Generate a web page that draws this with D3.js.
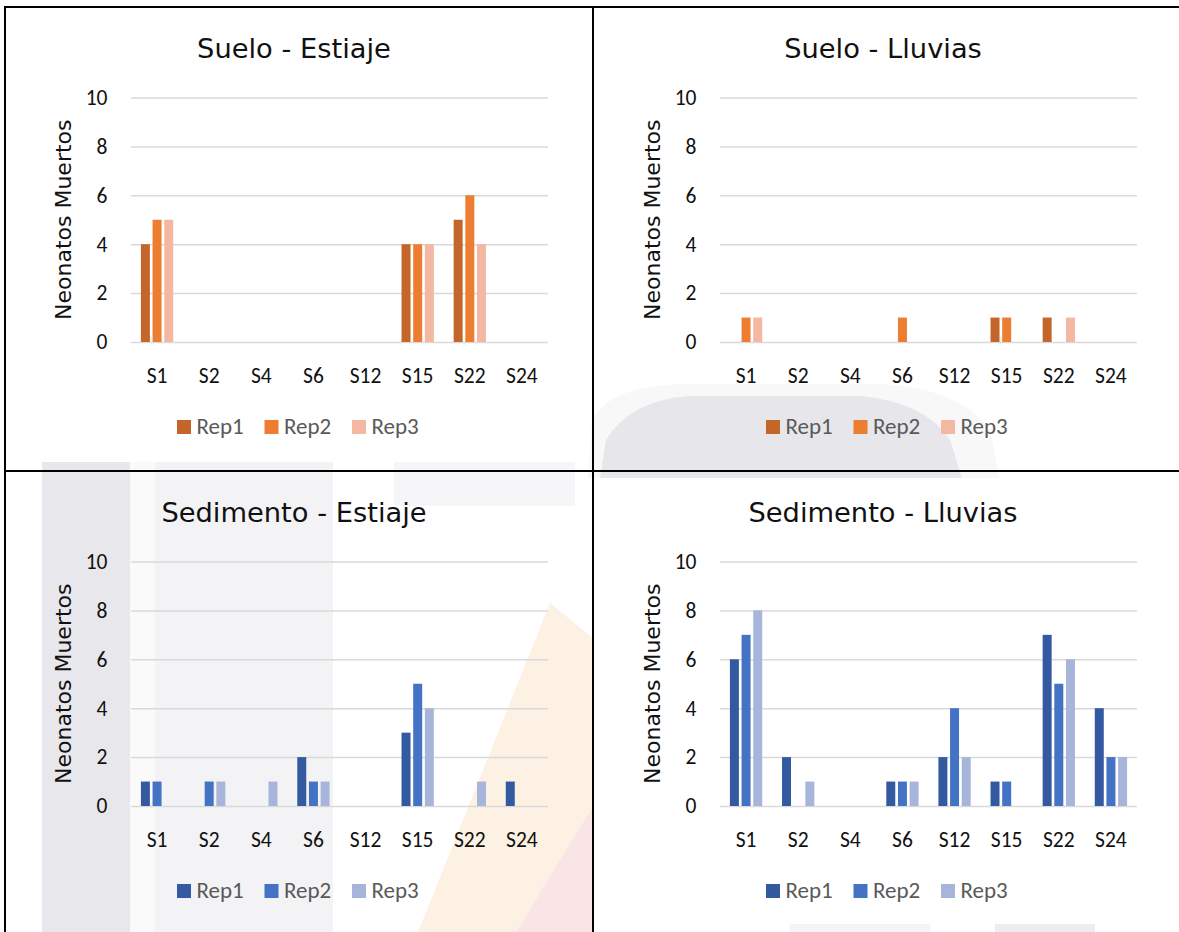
<!DOCTYPE html>
<html>
<head>
<meta charset="utf-8">
<script src="https://cdn.jsdelivr.net/npm/d3@7"></script>
<style>
  html, body { margin: 0; padding: 0; background: #fff; }
  svg { display: block; }
</style>
</head>
<body>
<script>
// Categories and series
const sites = ["S1", "S2", "S4", "S6", "S12", "S15", "S22", "S24"];
const reps = ["Rep1", "Rep2", "Rep3"];
const yTicks = [0, 2, 4, 6, 8, 10];

// one row per replicate (Rep1, Rep2, Rep3), one column per site
const sueloEstiaje = [
    [4, 0, 0, 0, 0, 4, 5, 0],
    [5, 0, 0, 0, 0, 4, 6, 0],
    [5, 0, 0, 0, 0, 4, 4, 0]
];
const sueloLluvias = [
    [0, 0, 0, 0, 0, 1, 1, 0],
    [1, 0, 0, 1, 0, 1, 0, 0],
    [1, 0, 0, 0, 0, 0, 1, 0]
];
const sedimentoEstiaje = [
    [1, 0, 0, 2, 0, 3, 0, 1],
    [1, 1, 0, 1, 0, 5, 0, 0],
    [0, 1, 1, 1, 0, 4, 1, 0]
];
const sedimentoLluvias = [
    [6, 2, 0, 1, 2, 1, 7, 4],
    [7, 0, 0, 1, 4, 1, 5, 2],
    [8, 1, 0, 1, 2, 0, 6, 2]
];

const orangeColors = ["#C4652A", "#ED7D31", "#F4B8A2"];
const blueColors = ["#335AA1", "#4472C4", "#A8B5DB"];

const panels = [
    { title: "Suelo - Estiaje",     rows: sueloEstiaje,     colors: orangeColors, ox: 0,   oy: 0 },
    { title: "Suelo - Lluvias",     rows: sueloLluvias,     colors: orangeColors, ox: 589, oy: 0 },
    { title: "Sedimento - Estiaje", rows: sedimentoEstiaje, colors: blueColors,   ox: 0,   oy: 464 },
    { title: "Sedimento - Lluvias", rows: sedimentoLluvias, colors: blueColors,   ox: 589, oy: 464 }
];

const W = 1179, H = 932;
const PLOT = { left: 131, right: 548, top: 97.5, bottom: 342 };
const TICK_FONT = "Calibri, Carlito, Lato, sans-serif";
const TITLE_FONT = "'DejaVu Sans', Verdana, sans-serif";

const svg = d3.select("body").append("svg")
    .attr("width", W).attr("height", H)
    .attr("viewBox", `0 0 ${W} ${H}`);

// faint watermark behind the charts
const wm = svg.append("g").attr("class", "watermark");
wm.append("rect").attr("x", 42).attr("y", 462).attr("width", 88).attr("height", 470).attr("fill", "#E8E8EC");
wm.append("rect").attr("x", 130).attr("y", 462).attr("width", 25).attr("height", 470).attr("fill", "#FAFAFB");
wm.append("rect").attr("x", 155).attr("y", 462).attr("width", 178).attr("height", 470).attr("fill", "#F3F3F5");
wm.append("rect").attr("x", 394).attr("y", 462).attr("width", 181).attr("height", 44).attr("fill", "#F6F6F8");
wm.append("path").attr("d", "M550,603 L593,638 L593,806 L516,932 L418,932 Z").attr("fill", "#FDF1E4");
wm.append("path").attr("d", "M593,806 L593,932 L516,932 Z").attr("fill", "#F9E5E5");
wm.append("path")
    .attr("d", "M588,478 L592,420 Q610,386 680,384 L880,384 Q960,388 990,430 L1000,478 Z")
    .attr("fill", "#F8F8F9");
wm.append("path")
    .attr("d", "M600,478 L606,440 Q630,400 690,396 L860,396 Q925,402 950,440 L962,478 Z")
    .attr("fill", "#E7E7EB");
wm.append("rect").attr("x", 790).attr("y", 924).attr("width", 140).attr("height", 8).attr("fill", "#F4F4F6");
wm.append("rect").attr("x", 995).attr("y", 924).attr("width", 100).attr("height", 8).attr("fill", "#EDEDF0");

const x0 = d3.scaleBand().domain(sites)
    .range([PLOT.left, PLOT.right])
    .paddingInner(0.38).paddingOuter(0.19);
const x1 = d3.scaleBand().domain(reps)
    .range([0, x0.bandwidth()])
    .paddingInner(0.23);
const y = d3.scaleLinear().domain([0, 10]).range([PLOT.bottom, PLOT.top]);

panels.forEach(p => {
    const g = svg.append("g").attr("transform", `translate(${p.ox},${p.oy})`);

    // title
    g.append("text")
        .attr("x", 294).attr("y", 58)
        .attr("text-anchor", "middle")
        .style("font-family", TITLE_FONT).style("font-size", "27.3px")
        .style("fill", "#111")
        .text(p.title);

    // y axis with gridlines
    const yAxis = g.append("g")
        .attr("transform", `translate(${PLOT.left},0)`)
        .call(d3.axisLeft(y).tickValues(yTicks)
            .tickSize(-(PLOT.right - PLOT.left)).tickPadding(23.5));
    yAxis.select(".domain").remove();
    yAxis.selectAll(".tick line").attr("stroke", "#D9D9D9").attr("stroke-width", 1.5);
    yAxis.selectAll(".tick text")
        .style("font-family", TICK_FONT).style("font-size", "21.5px").style("fill", "#111");

    // y axis title
    g.append("text")
        .attr("transform", `translate(63,${(PLOT.top + PLOT.bottom) / 2}) rotate(-90)`)
        .attr("text-anchor", "middle")
        .attr("dominant-baseline", "central")
        .style("font-family", TITLE_FONT).style("font-size", "22px")
        .style("fill", "#111")
        .text("Neonatos Muertos");

    // x axis labels
    const xAxis = g.append("g")
        .attr("transform", `translate(0,${PLOT.bottom})`)
        .call(d3.axisBottom(x0).tickSize(0).tickPadding(25.5));
    xAxis.select(".domain").remove();
    xAxis.selectAll(".tick text")
        .style("font-family", TICK_FONT).style("font-size", "21.5px").style("fill", "#111");

    // bars
    const groups = g.append("g").selectAll("g")
        .data(sites)
        .join("g")
        .attr("transform", d => `translate(${x0(d)},0)`);
    groups.selectAll("rect")
        .data((d, i) => reps.map((r, k) => ({ rep: r, k, value: p.rows[k][i] })))
        .join("rect")
        .filter(d => d.value > 0)
        .attr("x", d => x1(d.rep))
        .attr("width", x1.bandwidth())
        .attr("y", d => y(d.value))
        .attr("height", d => y(0) - y(d.value))
        .attr("fill", d => p.colors[d.k]);

    // legend
    const legend = g.append("g").selectAll("g")
        .data(reps)
        .join("g")
        .attr("transform", (d, i) => `translate(${177 + i * 87.5},420)`);
    legend.append("rect")
        .attr("width", 14).attr("height", 14)
        .attr("fill", (d, i) => p.colors[i]);
    legend.append("text")
        .attr("x", 19.5).attr("y", 13.5)
        .style("font-family", TICK_FONT).style("font-size", "23px")
        .style("fill", "#595959")
        .text(d => d);
});

// cell borders
const borders = svg.append("g").attr("stroke", "#000").attr("stroke-width", 2);
borders.append("line").attr("x1", 4).attr("x2", W).attr("y1", 7).attr("y2", 7);
borders.append("line").attr("x1", 5).attr("x2", 5).attr("y1", 6).attr("y2", H);
borders.append("line").attr("x1", 593).attr("x2", 593).attr("y1", 6).attr("y2", H);
borders.append("line").attr("x1", 4).attr("x2", W).attr("y1", 471).attr("y2", 471);
</script>
</body>
</html>
